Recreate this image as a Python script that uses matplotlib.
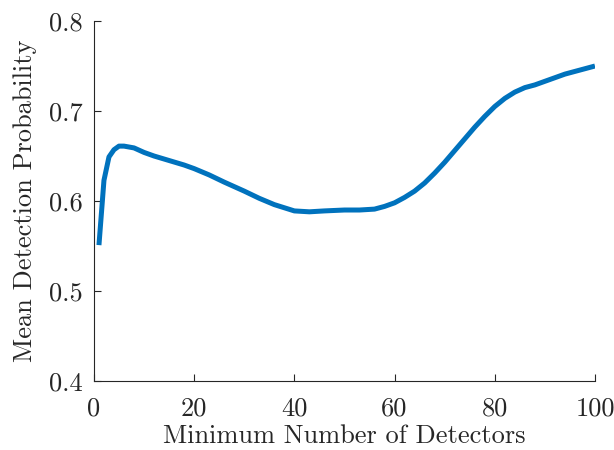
import numpy as np
import matplotlib
matplotlib.use("Agg")
import matplotlib.pyplot as plt

# values
detectors = [1, 2, 3, 4, 5, 6, 8, 10, 12, 15, 18, 20, 23, 26, 30, 33, 36, 40, 43, 46,
             50, 53, 56, 58, 60, 62, 64, 66, 68, 70, 72, 74, 76, 78, 80, 82, 84, 86,
             88, 90, 92, 94, 96, 98, 100]
mean_prob = [0.551, 0.623, 0.649, 0.657, 0.661, 0.661, 0.659, 0.654, 0.650, 0.645,
             0.640, 0.636, 0.629, 0.621, 0.611, 0.603, 0.596, 0.589, 0.588, 0.589,
             0.590, 0.590, 0.591, 0.594, 0.598, 0.604, 0.611, 0.620, 0.631, 0.643,
             0.656, 0.669, 0.682, 0.694, 0.705, 0.714, 0.721, 0.726, 0.729, 0.733,
             0.737, 0.741, 0.744, 0.747, 0.750]
xticks = [0, 20, 40, 60, 80, 100]
yticks = [0.4, 0.5, 0.6, 0.7, 0.8]

plt.rcParams['font.family'] = 'cmr10'
plt.rcParams['axes.formatter.use_mathtext'] = True
plt.rcParams['mathtext.fontset'] = 'cm'

fig = plt.figure(figsize=(6.14, 4.5), dpi=100)
ax = fig.add_axes([0.153, 0.1533, 0.816, 0.80])
ax.plot(detectors, mean_prob, color='#0072BD', linewidth=3.6, solid_capstyle='butt')

ax.set_xlim(0, 100)
ax.set_ylim(0.4, 0.8)
ax.set_xticks(xticks)
ax.set_yticks(yticks)
ax.set_xticklabels([str(t) for t in xticks])
ax.set_yticklabels(['%.1f' % t for t in yticks])
ax.tick_params(direction='in', length=5, width=0.8, labelsize=19, colors='#262626')
ax.tick_params(axis='x', pad=11)
ax.tick_params(axis='y', pad=8)
for s in ['top', 'right']:
    ax.spines[s].set_visible(False)
for s in ['bottom', 'left']:
    ax.spines[s].set_linewidth(0.8)
    ax.spines[s].set_color('#262626')

ax.set_xlabel('Minimum Number of Detectors', fontsize=19, color='#262626', labelpad=3)
ax.set_ylabel('Mean Detection Probability', fontsize=19, color='#262626', labelpad=9)

fig.savefig('out.png', dpi=100)
